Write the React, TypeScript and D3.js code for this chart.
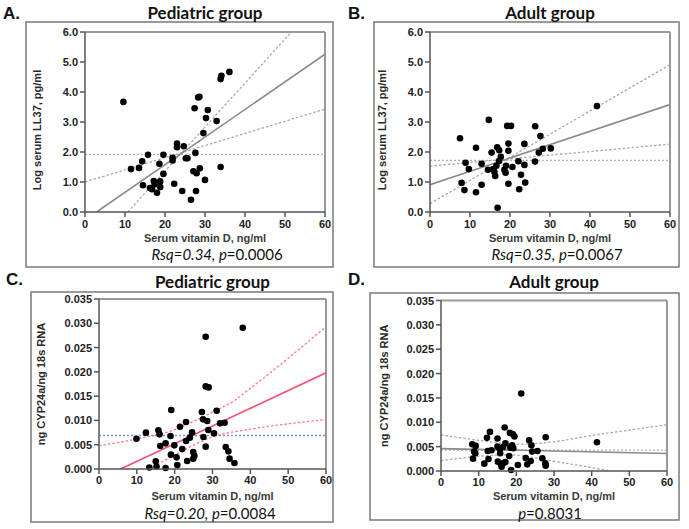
import React from 'react'
import * as d3 from 'd3'

const X_TICKS = [0, 10, 20, 30, 40, 50, 60]
const LL37_TICKS = [0, 1, 2, 3, 4, 5, 6]
const CYP_TICKS = [0, 0.005, 0.01, 0.015, 0.02, 0.025, 0.03, 0.035]

// [vitamin D, value]
const pedLL37 = [
  [9.6, 3.67], [11.5, 1.43], [13.5, 1.47], [14.3, 1.69], [15.75, 1.91], [14.5, 0.89],
  [16.25, 0.8], [16.75, 0.76], [17.2, 1.03], [17.4, 0.92], [18.0, 0.64], [18.6, 1.61],
  [18.8, 1.02], [18.8, 0.83], [19.6, 1.91], [19.6, 1.27], [21.9, 1.81], [21.9, 1.72],
  [22.3, 0.94], [23.0, 2.28], [23.0, 2.16], [24.7, 2.19], [24.3, 0.7], [25.2, 1.79],
  [25.6, 1.79], [26.5, 0.41], [27.4, 3.46], [27.6, 1.97], [27.1, 1.36], [27.9, 1.29],
  [27.75, 0.7], [28.3, 3.82], [28.6, 3.84], [28.7, 1.46], [30.25, 3.13], [30.7, 3.4],
  [29.6, 2.63], [30.0, 1.07], [32.9, 3.03], [33.9, 4.43], [34.1, 4.54], [33.9, 1.5],
  [36.1, 4.67],
]

const adultLL37 = [
  [7.5, 2.46], [7.9, 0.97], [8.6, 0.73], [8.9, 1.64], [9.7, 1.43], [11.5, 2.14],
  [11.5, 0.66], [12.9, 1.61], [12.9, 0.91], [14.5, 1.41], [14.7, 3.07], [15.4, 1.98],
  [15.8, 1.43], [16.1, 1.33], [16.3, 1.2], [16.6, 1.54], [16.8, 2.16], [16.9, 0.14],
  [17.25, 1.7], [17.3, 2.06], [17.7, 1.84], [18.6, 1.41], [18.9, 1.31], [19.0, 1.54],
  [19.3, 2.87], [20.25, 2.87], [19.6, 2.28], [19.6, 2.04], [19.6, 0.94], [20.6, 1.5],
  [22.1, 1.69], [22.3, 0.76], [22.75, 1.24], [23.6, 2.27], [23.6, 1.57], [23.8, 0.98],
  [26.3, 2.86], [26.25, 1.68], [27.2, 1.98], [27.6, 2.53], [28.2, 2.11], [30.2, 2.12],
  [41.75, 3.53],
]

const pedCYP = [
  [9.9, 0.00624], [12.4, 0.00748], [13.3, 0.0003], [15.0, 0.0016], [15.2, 0.0005],
  [15.7, 0.00796], [16.0, 0.00713], [16.2, 0.00473], [17.6, 0.00528], [17.6, 0.0002],
  [18.9, 0.00679], [19.0, 0.00295], [19.1, 0.01214], [19.9, 0.00487], [20.5, 0.0024],
  [20.7, 0.0008], [21.4, 0.0087], [22.0, 0.0041], [23.0, 0.00967], [23.0, 0.00576],
  [23.3, 0.00165], [24.0, 0.00645], [24.6, 0.00754], [24.9, 0.0035], [24.9, 0.0021],
  [25.2, 0.0027], [27.2, 0.01173], [27.5, 0.01022], [27.6, 0.00658], [28.2, 0.01701],
  [28.2, 0.02723], [28.2, 0.0046], [28.6, 0.00988], [28.9, 0.00802], [29.0, 0.0168],
  [30.4, 0.00734], [31.1, 0.012], [32.0, 0.0094], [33.2, 0.00953], [33.5, 0.00453],
  [34.2, 0.00363], [34.5, 0.00213], [35.8, 0.00123], [38.0, 0.02908],
]

const adultCYP = [
  [8.3, 0.00549], [8.5, 0.00254], [8.8, 0.00398], [9.2, 0.00515], [9.1, 0.00364],
  [11.5, 0.00151], [12.2, 0.0068], [12.4, 0.00412], [12.6, 0.00247], [13.0, 0.00803],
  [13.4, 0.00425], [15.0, 0.00666], [15.0, 0.00501], [15.1, 0.00192], [15.6, 0.00453],
  [15.7, 0.00364], [15.9, 0.00144], [16.1, 0.00089], [16.5, 0.00494], [16.6, 0.00165],
  [16.9, 0.00892], [17.1, 0.0057], [17.1, 0.00185], [18.1, 0.00309], [18.3, 0.00782],
  [18.4, 0.0048], [18.6, 0.0002], [18.9, 0.00528], [19.1, 0.00755], [19.5, 0.00707],
  [19.2, 0.00467], [20.4, 0.00124], [21.3, 0.01592], [22.5, 0.00268], [22.9, 0.00137],
  [23.4, 0.00631], [23.8, 0.00206], [24.0, 0.00528], [24.2, 0.00398], [25.6, 0.00412],
  [26.9, 0.00261], [27.7, 0.00158], [27.8, 0.0011], [27.8, 0.00693], [41.4, 0.0059],
]

// regression line, 95% bands and mean line
const pedLL37Fit = [[2.9, 0], [60, 5.26]]
const pedLL37Bands = [[[0, 1.0], [60, 3.43]], [[10.7, 0], [51.6, 6.0]]]
const pedLL37Mean = 1.92

const adultLL37Fit = [[0, 0.91], [60, 3.58]]
const adultLL37Bands = [[[0, 0.28], [60, 4.91]], [[0, 1.53], [60, 2.26]]]
const adultLL37Mean = 1.72

const pedCYPFit = [[5.7, 0], [60, 0.0198]]
const pedCYPBands = [
  [[0, 0.0048], [10, 0.0062], [20, 0.0081], [25, 0.0098], [30, 0.0117], [36, 0.0142], [40, 0.0166], [50, 0.0228], [60, 0.0293]],
  [[13.3, 0], [20, 0.0029], [30, 0.0066], [40, 0.0082], [50, 0.0093], [60, 0.0102]],
]
const pedCYPMean = 0.0069

const adultCYPFit = [[0, 0.0046], [60, 0.0036]]
const adultCYPBands = [
  [[0, 0.0074], [10, 0.0063], [20, 0.0055], [30, 0.006], [40, 0.0073], [50, 0.0084], [60, 0.0095]],
  [[0, 0.0021], [10, 0.003], [18, 0.0033], [25, 0.0027], [30, 0.002], [40, 0.0007], [45, 0]],
]
const adultCYPMean = 0.0043

const TICK_FONT = '"Liberation Sans", Arial, sans-serif'
const TITLE_FONT = 'Lato, "Open Sans", sans-serif'

function Panel({
  id, box, plot, letter, letterPos, title, titleY, yLabel, yLabelX, yLabelY, yTicks, yFormat,
  points, fit, bands, mean, stat, statX, statY, xTickY, xLabelY, fitColor, bandColor,
  meanColor, curved,
}) {
  const x = d3.scaleLinear().domain([0, 60]).range([plot.x0, plot.x1])
  const y = d3.scaleLinear().domain([0, yTicks[yTicks.length - 1]]).range([plot.y1, plot.y0])
  const line = d3.line().x(d => x(d[0])).y(d => y(d[1]))
    .curve(curved ? d3.curveMonotoneX : d3.curveLinear)
  const cx = (plot.x0 + plot.x1) / 2
  const cy = yLabelY ?? (plot.y0 + plot.y1) / 2

  return (
    <g>
      <defs>
        <clipPath id={`clip-${id}`}>
          <rect x={plot.x0} y={plot.y0} width={plot.x1 - plot.x0} height={plot.y1 - plot.y0} />
        </clipPath>
      </defs>
      <rect x={box.x0} y={box.y0} width={box.x1 - box.x0} height={box.y1 - box.y0}
        fill="none" stroke="#7a7a7a" strokeWidth={1.5} />
      <text x={letterPos[0]} y={letterPos[1]} fontFamily={TICK_FONT} fontWeight="bold"
        fontSize={17} fill="#111">{letter}</text>
      <text x={cx} y={titleY} textAnchor="middle" fontFamily={TITLE_FONT} fontWeight="bold"
        fontSize={17} fill="#111">{title}</text>

      {/* frame top / right */}
      <line x1={plot.x0} x2={plot.x1} y1={plot.y0} y2={plot.y0} stroke="#999" strokeWidth={2} />
      <line x1={plot.x1} x2={plot.x1} y1={plot.y0} y2={plot.y1} stroke="#999" strokeWidth={2} />

      <g clipPath={`url(#clip-${id})`}>
        <line x1={x(0)} x2={x(60)} y1={y(mean)} y2={y(mean)} stroke={meanColor}
          strokeWidth={1.3} strokeDasharray="2,2" />
        {bands.map((b, i) => (
          <path key={i} d={line(b)} fill="none" stroke={bandColor} strokeWidth={1.3}
            strokeDasharray="2.5,2" />
        ))}
        <path d={line(fit)} fill="none" stroke={fitColor} strokeWidth={1.6} />
      </g>

      {points.map((p, i) => (
        <circle key={i} cx={x(p[0])} cy={y(p[1])} r={3.3} fill="#000" />
      ))}

      {/* axes */}
      <line x1={plot.x0} x2={plot.x0} y1={plot.y0} y2={plot.y1} stroke="#555" strokeWidth={1.5} />
      <line x1={plot.x0} x2={plot.x1} y1={plot.y1} y2={plot.y1} stroke="#555" strokeWidth={1.5} />
      {yTicks.map(t => (
        <g key={t}>
          <line x1={plot.x0 - 5} x2={plot.x0} y1={y(t)} y2={y(t)} stroke="#555" strokeWidth={1.5} />
          <text x={plot.x0 - 7} y={y(t) + 4} textAnchor="end" fontFamily={TICK_FONT}
            fontWeight="bold" fontSize={11} fill="#222">{d3.format(yFormat)(t)}</text>
        </g>
      ))}
      {X_TICKS.map(t => (
        <g key={t}>
          <line x1={x(t)} x2={x(t)} y1={plot.y1} y2={plot.y1 + 5} stroke="#555" strokeWidth={1.5} />
          <text x={x(t)} y={xTickY} textAnchor="middle" fontFamily={TICK_FONT}
            fontWeight="bold" fontSize={11} fill="#222">{t}</text>
        </g>
      ))}
      <text x={cx} y={xLabelY} textAnchor="middle" fontFamily={TICK_FONT} fontWeight="bold"
        fontSize={11} fill="#3a3a3a">Serum vitamin D, ng/ml</text>
      <text transform={`translate(${yLabelX},${cy}) rotate(-90)`} textAnchor="middle"
        fontFamily={TICK_FONT} fontWeight="bold" fontSize={11} fill="#2a2a2a">{yLabel}</text>
      <text x={statX} y={statY} textAnchor="middle" fontFamily={TITLE_FONT} fontSize={15} fill="#111">
        {stat.map((s, i) => (
          <tspan key={i} fontStyle={s.italic ? 'italic' : 'normal'}>{s.t}</tspan>
        ))}
      </text>
    </g>
  )
}

export default function App() {
  const gray = { fitColor: '#8a8a8a', bandColor: '#a8a8a8', meanColor: '#b0b0b0' }
  return (
    <svg width={689} height={529} style={{ position: 'absolute', left: 0, top: 0, background: '#fff' }}>
      <Panel id="a" box={{ x0: 26, x1: 333, y0: 22, y1: 267 }} plot={{ x0: 85, x1: 325, y0: 32, y1: 212 }}
        letter="A." letterPos={[3, 19]} title="Pediatric group" titleY={19}
        yLabel="Log serum LL37, pg/ml" yLabelX={41} yLabelY={130} yTicks={LL37_TICKS} yFormat=".1f"
        points={pedLL37} fit={pedLL37Fit} bands={pedLL37Bands} mean={pedLL37Mean}
        stat={[{ t: 'Rsq=0.34, ', italic: true }, { t: 'p', italic: true }, { t: '=0.0006' }]}
        statX={217} statY={260} xTickY={228} xLabelY={242} {...gray} />
      <Panel id="b" box={{ x0: 374, x1: 679, y0: 22, y1: 267 }} plot={{ x0: 430, x1: 670, y0: 32, y1: 212 }}
        letter="B." letterPos={[348, 19]} title="Adult group" titleY={19}
        yLabel="Log serum LL37, pg/ml" yLabelX={386} yLabelY={130} yTicks={LL37_TICKS} yFormat=".1f"
        points={adultLL37} fit={adultLL37Fit} bands={adultLL37Bands} mean={adultLL37Mean}
        stat={[{ t: 'Rsq=0.35, ', italic: true }, { t: 'p', italic: true }, { t: '=0.0067' }]}
        statX={557} statY={260} xTickY={228} xLabelY={242} {...gray} />
      <Panel id="c" box={{ x0: 31, x1: 333, y0: 292, y1: 522 }} plot={{ x0: 99, x1: 326, y0: 299, y1: 469 }}
        letter="C." letterPos={[6, 285]} title="Pediatric group" titleY={288}
        yLabel="ng CYP24a/ng 18s RNA" yLabelX={45} yTicks={CYP_TICKS} yFormat=".3f"
        points={pedCYP} fit={pedCYPFit} bands={pedCYPBands} mean={pedCYPMean} curved
        stat={[{ t: 'Rsq=0.20, ', italic: true }, { t: 'p', italic: true }, { t: '=0.0084' }]}
        statX={210} statY={519} xTickY={484} xLabelY={500}
        fitColor="#f0506e" bandColor="#f27a92" meanColor="#6d98e0" />
      <Panel id="d" box={{ x0: 370, x1: 679, y0: 293, y1: 520 }} plot={{ x0: 441, x1: 667, y0: 300.5, y1: 471 }}
        letter="D." letterPos={[348, 285]} title="Adult group" titleY={288}
        yLabel="ng CYP24a/ng 18s RNA" yLabelX={388} yTicks={CYP_TICKS} yFormat=".3f"
        points={adultCYP} fit={adultCYPFit} bands={adultCYPBands} mean={adultCYPMean} curved
        stat={[{ t: 'p', italic: true }, { t: '=0.8031' }]}
        statX={550} statY={519} xTickY={486} xLabelY={500} {...gray} />
    </svg>
  )
}
